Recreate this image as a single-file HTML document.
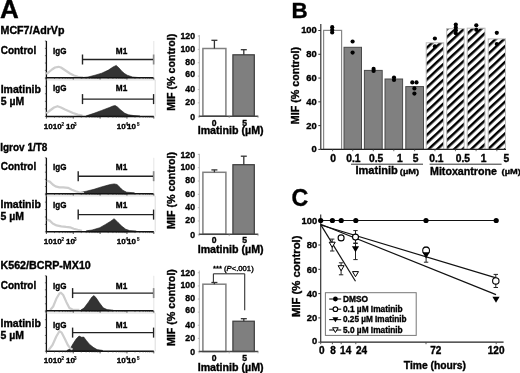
<!DOCTYPE html>
<html><head><meta charset="utf-8"><style>
html,body{margin:0;padding:0;background:#fff;}
svg{display:block;font-family:"Liberation Sans", sans-serif;filter:blur(0.3px);}
text{stroke:#000;stroke-width:0.35px;}
</style></head><body>
<svg width="520" height="373" viewBox="0 0 520 373">
<rect width="520" height="373" fill="#fff"/>
<text x="0.1" y="18.1" font-size="25.6" font-weight="bold" text-anchor="start" fill="#000" textLength="18.8" lengthAdjust="spacingAndGlyphs" >A</text>
<text x="0.5" y="33.9" font-size="10.4" font-weight="bold" text-anchor="start" fill="#000" textLength="64.0" lengthAdjust="spacingAndGlyphs" >MCF7/AdrVp</text>
<text x="0.7" y="53.8" font-size="10" font-weight="bold" text-anchor="start" fill="#000" textLength="35.5" lengthAdjust="spacingAndGlyphs" >Control</text>
<text x="0.7" y="92.7" font-size="10" font-weight="bold" text-anchor="start" fill="#000" textLength="40.2" lengthAdjust="spacingAndGlyphs" >Imatinib</text>
<text x="0.7" y="105.3" font-size="10" font-weight="bold" text-anchor="start" fill="#000" textLength="23.4" lengthAdjust="spacingAndGlyphs" >5 &#181;M</text>
<line x1="46.4" y1="41" x2="46.4" y2="117.0" stroke="#111" stroke-width="1.3"/>
<line x1="44.9" y1="77.7" x2="46.4" y2="77.7" stroke="#333" stroke-width="0.7"/>
<line x1="44.9" y1="70.36" x2="46.4" y2="70.36" stroke="#333" stroke-width="0.7"/>
<line x1="44.9" y1="63.02" x2="46.4" y2="63.02" stroke="#333" stroke-width="0.7"/>
<line x1="44.9" y1="55.68" x2="46.4" y2="55.68" stroke="#333" stroke-width="0.7"/>
<line x1="44.9" y1="48.34" x2="46.4" y2="48.34" stroke="#333" stroke-width="0.7"/>
<line x1="44.9" y1="41.0" x2="46.4" y2="41.0" stroke="#333" stroke-width="0.7"/>
<line x1="44.9" y1="116.4" x2="46.4" y2="116.4" stroke="#333" stroke-width="0.7"/>
<line x1="44.9" y1="108.86" x2="46.4" y2="108.86" stroke="#333" stroke-width="0.7"/>
<line x1="44.9" y1="101.32000000000001" x2="46.4" y2="101.32000000000001" stroke="#333" stroke-width="0.7"/>
<line x1="44.9" y1="93.78" x2="46.4" y2="93.78" stroke="#333" stroke-width="0.7"/>
<line x1="44.9" y1="86.24000000000001" x2="46.4" y2="86.24000000000001" stroke="#333" stroke-width="0.7"/>
<line x1="44.9" y1="78.7" x2="46.4" y2="78.7" stroke="#333" stroke-width="0.7"/>
<path d="M82.0,77.7 L82.0,77.6 L88.0,77.0 L95.0,75.2 L101.7,73.2 L108.4,70.1 L113.0,67.0 L116.2,65.4 L119.0,68.0 L121.8,71.2 L124.5,73.5 L127.2,75.2 L132.5,77.0 L139.2,77.6 L139.2,77.7 Z" fill="#333" stroke="#1a1a1a" stroke-width="0.6" stroke-linejoin="round"/>
<path d="M46.3,74.0 L49.0,72.0 L52.0,69.5 L55.0,67.5 L58.5,66.8 L61.0,67.5 L64.0,69.5 L67.0,71.5 L70.0,73.5 L74.0,75.5 L78.0,76.8 L83.0,77.4" fill="none" stroke="#cdcdcd" stroke-width="2.2" stroke-linejoin="round"/>
<line x1="46.4" y1="77.7" x2="153.8" y2="77.7" stroke="#111" stroke-width="1.5"/>
<line x1="46.4" y1="77.7" x2="46.4" y2="79.9" stroke="#222" stroke-width="0.8"/>
<line x1="54.5" y1="77.7" x2="54.5" y2="79.0" stroke="#333" stroke-width="0.6"/>
<line x1="59.2" y1="77.7" x2="59.2" y2="79.0" stroke="#333" stroke-width="0.6"/>
<line x1="62.6" y1="77.7" x2="62.6" y2="79.0" stroke="#333" stroke-width="0.6"/>
<line x1="65.2" y1="77.7" x2="65.2" y2="79.0" stroke="#333" stroke-width="0.6"/>
<line x1="67.3" y1="77.7" x2="67.3" y2="79.0" stroke="#333" stroke-width="0.6"/>
<line x1="69.1" y1="77.7" x2="69.1" y2="79.0" stroke="#333" stroke-width="0.6"/>
<line x1="70.6" y1="77.7" x2="70.6" y2="79.0" stroke="#333" stroke-width="0.6"/>
<line x1="72.0" y1="77.7" x2="72.0" y2="79.0" stroke="#333" stroke-width="0.6"/>
<line x1="73.25" y1="77.7" x2="73.25" y2="79.9" stroke="#222" stroke-width="0.8"/>
<line x1="81.3" y1="77.7" x2="81.3" y2="79.0" stroke="#333" stroke-width="0.6"/>
<line x1="86.1" y1="77.7" x2="86.1" y2="79.0" stroke="#333" stroke-width="0.6"/>
<line x1="89.4" y1="77.7" x2="89.4" y2="79.0" stroke="#333" stroke-width="0.6"/>
<line x1="92.0" y1="77.7" x2="92.0" y2="79.0" stroke="#333" stroke-width="0.6"/>
<line x1="94.1" y1="77.7" x2="94.1" y2="79.0" stroke="#333" stroke-width="0.6"/>
<line x1="95.9" y1="77.7" x2="95.9" y2="79.0" stroke="#333" stroke-width="0.6"/>
<line x1="97.5" y1="77.7" x2="97.5" y2="79.0" stroke="#333" stroke-width="0.6"/>
<line x1="98.9" y1="77.7" x2="98.9" y2="79.0" stroke="#333" stroke-width="0.6"/>
<line x1="100.1" y1="77.7" x2="100.1" y2="79.9" stroke="#222" stroke-width="0.8"/>
<line x1="108.2" y1="77.7" x2="108.2" y2="79.0" stroke="#333" stroke-width="0.6"/>
<line x1="112.9" y1="77.7" x2="112.9" y2="79.0" stroke="#333" stroke-width="0.6"/>
<line x1="116.3" y1="77.7" x2="116.3" y2="79.0" stroke="#333" stroke-width="0.6"/>
<line x1="118.9" y1="77.7" x2="118.9" y2="79.0" stroke="#333" stroke-width="0.6"/>
<line x1="121.0" y1="77.7" x2="121.0" y2="79.0" stroke="#333" stroke-width="0.6"/>
<line x1="122.8" y1="77.7" x2="122.8" y2="79.0" stroke="#333" stroke-width="0.6"/>
<line x1="124.3" y1="77.7" x2="124.3" y2="79.0" stroke="#333" stroke-width="0.6"/>
<line x1="125.7" y1="77.7" x2="125.7" y2="79.0" stroke="#333" stroke-width="0.6"/>
<line x1="126.95000000000002" y1="77.7" x2="126.95000000000002" y2="79.9" stroke="#222" stroke-width="0.8"/>
<line x1="135.0" y1="77.7" x2="135.0" y2="79.0" stroke="#333" stroke-width="0.6"/>
<line x1="139.8" y1="77.7" x2="139.8" y2="79.0" stroke="#333" stroke-width="0.6"/>
<line x1="143.1" y1="77.7" x2="143.1" y2="79.0" stroke="#333" stroke-width="0.6"/>
<line x1="145.7" y1="77.7" x2="145.7" y2="79.0" stroke="#333" stroke-width="0.6"/>
<line x1="147.8" y1="77.7" x2="147.8" y2="79.0" stroke="#333" stroke-width="0.6"/>
<line x1="149.6" y1="77.7" x2="149.6" y2="79.0" stroke="#333" stroke-width="0.6"/>
<line x1="151.2" y1="77.7" x2="151.2" y2="79.0" stroke="#333" stroke-width="0.6"/>
<line x1="152.6" y1="77.7" x2="152.6" y2="79.0" stroke="#333" stroke-width="0.6"/>
<line x1="153.8" y1="77.7" x2="153.8" y2="79.9" stroke="#222" stroke-width="0.8"/>
<path d="M86.3,116.4 L86.3,115.8 L94.0,113.3 L101.7,110.4 L109.4,107.5 L113.0,106.0 L115.2,105.6 L117.5,107.0 L120.0,109.4 L124.8,113.3 L128.6,114.8 L134.0,115.6 L140.0,116.0 L140.0,116.4 Z" fill="#333" stroke="#1a1a1a" stroke-width="0.6" stroke-linejoin="round"/>
<path d="M46.3,113.3 L50.0,110.5 L54.0,107.5 L57.5,106.2 L61.0,107.5 L65.0,109.5 L69.0,111.3 L73.0,113.0 L77.7,114.6 L82.5,115.5" fill="none" stroke="#cdcdcd" stroke-width="2.2" stroke-linejoin="round"/>
<line x1="46.4" y1="116.4" x2="153.8" y2="116.4" stroke="#111" stroke-width="1.5"/>
<line x1="46.4" y1="116.4" x2="46.4" y2="118.60000000000001" stroke="#222" stroke-width="0.8"/>
<line x1="54.5" y1="116.4" x2="54.5" y2="117.7" stroke="#333" stroke-width="0.6"/>
<line x1="59.2" y1="116.4" x2="59.2" y2="117.7" stroke="#333" stroke-width="0.6"/>
<line x1="62.6" y1="116.4" x2="62.6" y2="117.7" stroke="#333" stroke-width="0.6"/>
<line x1="65.2" y1="116.4" x2="65.2" y2="117.7" stroke="#333" stroke-width="0.6"/>
<line x1="67.3" y1="116.4" x2="67.3" y2="117.7" stroke="#333" stroke-width="0.6"/>
<line x1="69.1" y1="116.4" x2="69.1" y2="117.7" stroke="#333" stroke-width="0.6"/>
<line x1="70.6" y1="116.4" x2="70.6" y2="117.7" stroke="#333" stroke-width="0.6"/>
<line x1="72.0" y1="116.4" x2="72.0" y2="117.7" stroke="#333" stroke-width="0.6"/>
<line x1="73.25" y1="116.4" x2="73.25" y2="118.60000000000001" stroke="#222" stroke-width="0.8"/>
<line x1="81.3" y1="116.4" x2="81.3" y2="117.7" stroke="#333" stroke-width="0.6"/>
<line x1="86.1" y1="116.4" x2="86.1" y2="117.7" stroke="#333" stroke-width="0.6"/>
<line x1="89.4" y1="116.4" x2="89.4" y2="117.7" stroke="#333" stroke-width="0.6"/>
<line x1="92.0" y1="116.4" x2="92.0" y2="117.7" stroke="#333" stroke-width="0.6"/>
<line x1="94.1" y1="116.4" x2="94.1" y2="117.7" stroke="#333" stroke-width="0.6"/>
<line x1="95.9" y1="116.4" x2="95.9" y2="117.7" stroke="#333" stroke-width="0.6"/>
<line x1="97.5" y1="116.4" x2="97.5" y2="117.7" stroke="#333" stroke-width="0.6"/>
<line x1="98.9" y1="116.4" x2="98.9" y2="117.7" stroke="#333" stroke-width="0.6"/>
<line x1="100.1" y1="116.4" x2="100.1" y2="118.60000000000001" stroke="#222" stroke-width="0.8"/>
<line x1="108.2" y1="116.4" x2="108.2" y2="117.7" stroke="#333" stroke-width="0.6"/>
<line x1="112.9" y1="116.4" x2="112.9" y2="117.7" stroke="#333" stroke-width="0.6"/>
<line x1="116.3" y1="116.4" x2="116.3" y2="117.7" stroke="#333" stroke-width="0.6"/>
<line x1="118.9" y1="116.4" x2="118.9" y2="117.7" stroke="#333" stroke-width="0.6"/>
<line x1="121.0" y1="116.4" x2="121.0" y2="117.7" stroke="#333" stroke-width="0.6"/>
<line x1="122.8" y1="116.4" x2="122.8" y2="117.7" stroke="#333" stroke-width="0.6"/>
<line x1="124.3" y1="116.4" x2="124.3" y2="117.7" stroke="#333" stroke-width="0.6"/>
<line x1="125.7" y1="116.4" x2="125.7" y2="117.7" stroke="#333" stroke-width="0.6"/>
<line x1="126.95000000000002" y1="116.4" x2="126.95000000000002" y2="118.60000000000001" stroke="#222" stroke-width="0.8"/>
<line x1="135.0" y1="116.4" x2="135.0" y2="117.7" stroke="#333" stroke-width="0.6"/>
<line x1="139.8" y1="116.4" x2="139.8" y2="117.7" stroke="#333" stroke-width="0.6"/>
<line x1="143.1" y1="116.4" x2="143.1" y2="117.7" stroke="#333" stroke-width="0.6"/>
<line x1="145.7" y1="116.4" x2="145.7" y2="117.7" stroke="#333" stroke-width="0.6"/>
<line x1="147.8" y1="116.4" x2="147.8" y2="117.7" stroke="#333" stroke-width="0.6"/>
<line x1="149.6" y1="116.4" x2="149.6" y2="117.7" stroke="#333" stroke-width="0.6"/>
<line x1="151.2" y1="116.4" x2="151.2" y2="117.7" stroke="#333" stroke-width="0.6"/>
<line x1="152.6" y1="116.4" x2="152.6" y2="117.7" stroke="#333" stroke-width="0.6"/>
<line x1="153.8" y1="116.4" x2="153.8" y2="118.60000000000001" stroke="#222" stroke-width="0.8"/>
<line x1="82.5" y1="59.5" x2="153.6" y2="59.5" stroke="#222" stroke-width="1.4"/>
<line x1="82.5" y1="54.5" x2="82.5" y2="64.5" stroke="#222" stroke-width="1.4"/>
<line x1="153.6" y1="54.5" x2="153.6" y2="64.5" stroke="#222" stroke-width="1.4"/>
<text x="53.0" y="53.8" font-size="8.2" font-weight="bold" text-anchor="start" fill="#000" textLength="13.4" lengthAdjust="spacingAndGlyphs" >IgG</text>
<text x="115.8" y="53.8" font-size="8.2" font-weight="bold" text-anchor="start" fill="#000" textLength="11.4" lengthAdjust="spacingAndGlyphs" >M1</text>
<line x1="82.5" y1="99.1" x2="153.6" y2="99.1" stroke="#222" stroke-width="1.4"/>
<line x1="82.5" y1="94.1" x2="82.5" y2="104.1" stroke="#222" stroke-width="1.4"/>
<line x1="153.6" y1="94.1" x2="153.6" y2="104.1" stroke="#222" stroke-width="1.4"/>
<text x="53.0" y="91.4" font-size="8.2" font-weight="bold" text-anchor="start" fill="#000" textLength="13.4" lengthAdjust="spacingAndGlyphs" >IgG</text>
<text x="115.8" y="91.4" font-size="8.2" font-weight="bold" text-anchor="start" fill="#000" textLength="11.4" lengthAdjust="spacingAndGlyphs" >M1</text>
<line x1="153.8" y1="41" x2="153.8" y2="77.7" stroke="#dedede" stroke-width="0.8"/>
<line x1="46.4" y1="79.9" x2="155.2" y2="79.9" stroke="#d4d4d4" stroke-width="0.8"/>
<line x1="155.2" y1="79.9" x2="155.2" y2="116.4" stroke="#d4d4d4" stroke-width="0.8"/>
<text x="43.8" y="128.5" font-size="8.0" font-weight="bold">1010</text>
<text x="66.1" y="128.5" font-size="8.0" font-weight="bold">10</text>
<text x="116.7" y="128.5" font-size="8.0" font-weight="bold">10</text>
<text x="127.1" y="128.5" font-size="8.0" font-weight="bold">10</text>
<text x="61.5" y="125.5" font-size="4.5" font-weight="bold" style="stroke-width:0.15px">2</text>
<text x="74.1" y="125.5" font-size="4.5" font-weight="bold" style="stroke-width:0.15px">3</text>
<text x="125.4" y="125.5" font-size="4.5" font-weight="bold" style="stroke-width:0.15px">4</text>
<text x="136.9" y="125.5" font-size="4.5" font-weight="bold" style="stroke-width:0.15px">5</text>
<line x1="199.3" y1="35.1" x2="199.3" y2="116.2" stroke="#a8a8a8" stroke-width="0.9"/>
<line x1="197.8" y1="116.2" x2="199.3" y2="116.2" stroke="#a8a8a8" stroke-width="0.8"/>
<line x1="197.8" y1="102.834" x2="199.3" y2="102.834" stroke="#a8a8a8" stroke-width="0.8"/>
<line x1="197.8" y1="89.468" x2="199.3" y2="89.468" stroke="#a8a8a8" stroke-width="0.8"/>
<line x1="197.8" y1="76.102" x2="199.3" y2="76.102" stroke="#a8a8a8" stroke-width="0.8"/>
<line x1="197.8" y1="62.736000000000004" x2="199.3" y2="62.736000000000004" stroke="#a8a8a8" stroke-width="0.8"/>
<line x1="197.8" y1="49.370000000000005" x2="199.3" y2="49.370000000000005" stroke="#a8a8a8" stroke-width="0.8"/>
<line x1="197.8" y1="36.004000000000005" x2="199.3" y2="36.004000000000005" stroke="#a8a8a8" stroke-width="0.8"/>
<text x="195.0" y="119.5" font-size="8.7" font-weight="bold" text-anchor="end" fill="#000" >0</text>
<text x="195.0" y="104.8" font-size="8.7" font-weight="bold" text-anchor="end" fill="#000" >20</text>
<text x="195.0" y="92.0" font-size="8.7" font-weight="bold" text-anchor="end" fill="#000" >40</text>
<text x="195.0" y="77.25" font-size="8.7" font-weight="bold" text-anchor="end" fill="#000" >60</text>
<text x="195.0" y="65.15" font-size="8.7" font-weight="bold" text-anchor="end" fill="#000" >80</text>
<text x="195.0" y="51.6" font-size="8.7" font-weight="bold" text-anchor="end" fill="#000" >100</text>
<text x="195.0" y="38.65" font-size="8.7" font-weight="bold" text-anchor="end" fill="#000" >120</text>
<rect x="202.9" y="48.5" width="23.0" height="67.7" fill="#fff" stroke="#808080" stroke-width="1.5"/>
<rect x="232.9" y="54.8" width="21.4" height="61.400000000000006" fill="#7f7f7f" stroke="#3a3a3a" stroke-width="1.2"/>
<line x1="214.4" y1="40.3" x2="214.4" y2="48.5" stroke="#333" stroke-width="1.3"/>
<line x1="211.4" y1="40.3" x2="217.4" y2="40.3" stroke="#333" stroke-width="1.3"/>
<line x1="243.8" y1="49.7" x2="243.8" y2="54.8" stroke="#333" stroke-width="1.3"/>
<line x1="240.8" y1="49.7" x2="246.8" y2="49.7" stroke="#333" stroke-width="1.3"/>
<line x1="199.0" y1="116.2" x2="258.3" y2="116.2" stroke="#444" stroke-width="1.4"/>
<line x1="199.0" y1="116.2" x2="199.0" y2="118.0" stroke="#999" stroke-width="0.8"/>
<line x1="229.2" y1="116.2" x2="229.2" y2="118.0" stroke="#999" stroke-width="0.8"/>
<line x1="258.0" y1="116.2" x2="258.0" y2="118.0" stroke="#999" stroke-width="0.8"/>
<text x="214.1" y="125.60000000000001" font-size="8.6" font-weight="bold" text-anchor="middle" fill="#000" >0</text>
<text x="244.7" y="125.60000000000001" font-size="8.6" font-weight="bold" text-anchor="middle" fill="#000" >5</text>
<text x="197.7" y="134.4" font-size="10.2" font-weight="bold" text-anchor="start" fill="#000" textLength="65.9" lengthAdjust="spacingAndGlyphs" >Imatinib (&#181;M)</text>
<text x="0" y="0" font-size="10.6" font-weight="bold" transform="translate(175.4,110.8) rotate(-90)" textLength="77.0" lengthAdjust="spacingAndGlyphs">MIF (% control)</text>
<text x="0.2" y="150.6" font-size="10.4" font-weight="bold" text-anchor="start" fill="#000" textLength="47.2" lengthAdjust="spacingAndGlyphs" >Igrov 1/T8</text>
<text x="0.8" y="169.6" font-size="10" font-weight="bold" text-anchor="start" fill="#000" textLength="35.4" lengthAdjust="spacingAndGlyphs" >Control</text>
<text x="0.6" y="207.7" font-size="10" font-weight="bold" text-anchor="start" fill="#000" textLength="40.2" lengthAdjust="spacingAndGlyphs" >Imatinib</text>
<text x="0.6" y="219.8" font-size="10" font-weight="bold" text-anchor="start" fill="#000" textLength="23.4" lengthAdjust="spacingAndGlyphs" >5 &#181;M</text>
<line x1="46.4" y1="157.8" x2="46.4" y2="232.4" stroke="#111" stroke-width="1.3"/>
<line x1="44.9" y1="193.7" x2="46.4" y2="193.7" stroke="#333" stroke-width="0.7"/>
<line x1="44.9" y1="186.51999999999998" x2="46.4" y2="186.51999999999998" stroke="#333" stroke-width="0.7"/>
<line x1="44.9" y1="179.34" x2="46.4" y2="179.34" stroke="#333" stroke-width="0.7"/>
<line x1="44.9" y1="172.16" x2="46.4" y2="172.16" stroke="#333" stroke-width="0.7"/>
<line x1="44.9" y1="164.98000000000002" x2="46.4" y2="164.98000000000002" stroke="#333" stroke-width="0.7"/>
<line x1="44.9" y1="157.8" x2="46.4" y2="157.8" stroke="#333" stroke-width="0.7"/>
<line x1="44.9" y1="231.8" x2="46.4" y2="231.8" stroke="#333" stroke-width="0.7"/>
<line x1="44.9" y1="224.38" x2="46.4" y2="224.38" stroke="#333" stroke-width="0.7"/>
<line x1="44.9" y1="216.96" x2="46.4" y2="216.96" stroke="#333" stroke-width="0.7"/>
<line x1="44.9" y1="209.54" x2="46.4" y2="209.54" stroke="#333" stroke-width="0.7"/>
<line x1="44.9" y1="202.12" x2="46.4" y2="202.12" stroke="#333" stroke-width="0.7"/>
<line x1="44.9" y1="194.7" x2="46.4" y2="194.7" stroke="#333" stroke-width="0.7"/>
<path d="M78.6,193.7 L78.6,192.8 L86.3,191.2 L94.0,189.3 L99.8,187.4 L105.5,185.8 L110.3,184.5 L114.2,183.9 L117.0,184.5 L120.0,187.4 L122.8,190.3 L126.7,192.2 L134.4,192.8 L134.4,193.7 Z" fill="#333" stroke="#1a1a1a" stroke-width="0.6" stroke-linejoin="round"/>
<path d="M46.9,180.7 L49.8,181.6 L52.7,184.5 L55.5,186.4 L59.4,187.4 L63.2,187.4 L68.0,187.8 L71.9,189.7 L75.7,191.2 L79.6,192.6 L84.0,193.2" fill="none" stroke="#cdcdcd" stroke-width="2.2" stroke-linejoin="round"/>
<line x1="46.4" y1="193.7" x2="153.8" y2="193.7" stroke="#111" stroke-width="1.5"/>
<line x1="46.4" y1="193.7" x2="46.4" y2="195.89999999999998" stroke="#222" stroke-width="0.8"/>
<line x1="54.5" y1="193.7" x2="54.5" y2="195.0" stroke="#333" stroke-width="0.6"/>
<line x1="59.2" y1="193.7" x2="59.2" y2="195.0" stroke="#333" stroke-width="0.6"/>
<line x1="62.6" y1="193.7" x2="62.6" y2="195.0" stroke="#333" stroke-width="0.6"/>
<line x1="65.2" y1="193.7" x2="65.2" y2="195.0" stroke="#333" stroke-width="0.6"/>
<line x1="67.3" y1="193.7" x2="67.3" y2="195.0" stroke="#333" stroke-width="0.6"/>
<line x1="69.1" y1="193.7" x2="69.1" y2="195.0" stroke="#333" stroke-width="0.6"/>
<line x1="70.6" y1="193.7" x2="70.6" y2="195.0" stroke="#333" stroke-width="0.6"/>
<line x1="72.0" y1="193.7" x2="72.0" y2="195.0" stroke="#333" stroke-width="0.6"/>
<line x1="73.25" y1="193.7" x2="73.25" y2="195.89999999999998" stroke="#222" stroke-width="0.8"/>
<line x1="81.3" y1="193.7" x2="81.3" y2="195.0" stroke="#333" stroke-width="0.6"/>
<line x1="86.1" y1="193.7" x2="86.1" y2="195.0" stroke="#333" stroke-width="0.6"/>
<line x1="89.4" y1="193.7" x2="89.4" y2="195.0" stroke="#333" stroke-width="0.6"/>
<line x1="92.0" y1="193.7" x2="92.0" y2="195.0" stroke="#333" stroke-width="0.6"/>
<line x1="94.1" y1="193.7" x2="94.1" y2="195.0" stroke="#333" stroke-width="0.6"/>
<line x1="95.9" y1="193.7" x2="95.9" y2="195.0" stroke="#333" stroke-width="0.6"/>
<line x1="97.5" y1="193.7" x2="97.5" y2="195.0" stroke="#333" stroke-width="0.6"/>
<line x1="98.9" y1="193.7" x2="98.9" y2="195.0" stroke="#333" stroke-width="0.6"/>
<line x1="100.1" y1="193.7" x2="100.1" y2="195.89999999999998" stroke="#222" stroke-width="0.8"/>
<line x1="108.2" y1="193.7" x2="108.2" y2="195.0" stroke="#333" stroke-width="0.6"/>
<line x1="112.9" y1="193.7" x2="112.9" y2="195.0" stroke="#333" stroke-width="0.6"/>
<line x1="116.3" y1="193.7" x2="116.3" y2="195.0" stroke="#333" stroke-width="0.6"/>
<line x1="118.9" y1="193.7" x2="118.9" y2="195.0" stroke="#333" stroke-width="0.6"/>
<line x1="121.0" y1="193.7" x2="121.0" y2="195.0" stroke="#333" stroke-width="0.6"/>
<line x1="122.8" y1="193.7" x2="122.8" y2="195.0" stroke="#333" stroke-width="0.6"/>
<line x1="124.3" y1="193.7" x2="124.3" y2="195.0" stroke="#333" stroke-width="0.6"/>
<line x1="125.7" y1="193.7" x2="125.7" y2="195.0" stroke="#333" stroke-width="0.6"/>
<line x1="126.95000000000002" y1="193.7" x2="126.95000000000002" y2="195.89999999999998" stroke="#222" stroke-width="0.8"/>
<line x1="135.0" y1="193.7" x2="135.0" y2="195.0" stroke="#333" stroke-width="0.6"/>
<line x1="139.8" y1="193.7" x2="139.8" y2="195.0" stroke="#333" stroke-width="0.6"/>
<line x1="143.1" y1="193.7" x2="143.1" y2="195.0" stroke="#333" stroke-width="0.6"/>
<line x1="145.7" y1="193.7" x2="145.7" y2="195.0" stroke="#333" stroke-width="0.6"/>
<line x1="147.8" y1="193.7" x2="147.8" y2="195.0" stroke="#333" stroke-width="0.6"/>
<line x1="149.6" y1="193.7" x2="149.6" y2="195.0" stroke="#333" stroke-width="0.6"/>
<line x1="151.2" y1="193.7" x2="151.2" y2="195.0" stroke="#333" stroke-width="0.6"/>
<line x1="152.6" y1="193.7" x2="152.6" y2="195.0" stroke="#333" stroke-width="0.6"/>
<line x1="153.8" y1="193.7" x2="153.8" y2="195.89999999999998" stroke="#222" stroke-width="0.8"/>
<path d="M86.3,231.8 L86.3,230.8 L92.1,230.0 L99.8,227.7 L105.5,224.4 L110.3,221.5 L114.2,218.7 L118.0,222.5 L121.9,226.3 L125.7,229.2 L129.6,230.6 L136.3,231.0 L136.3,231.8 Z" fill="#333" stroke="#1a1a1a" stroke-width="0.6" stroke-linejoin="round"/>
<path d="M46.9,219.6 L49.8,220.6 L52.7,223.5 L56.5,225.4 L61.3,226.3 L66.1,226.9 L70.0,227.3 L73.8,228.7 L77.7,229.8 L82.0,230.8" fill="none" stroke="#cdcdcd" stroke-width="2.2" stroke-linejoin="round"/>
<line x1="46.4" y1="231.8" x2="153.8" y2="231.8" stroke="#111" stroke-width="1.5"/>
<line x1="46.4" y1="231.8" x2="46.4" y2="234.0" stroke="#222" stroke-width="0.8"/>
<line x1="54.5" y1="231.8" x2="54.5" y2="233.10000000000002" stroke="#333" stroke-width="0.6"/>
<line x1="59.2" y1="231.8" x2="59.2" y2="233.10000000000002" stroke="#333" stroke-width="0.6"/>
<line x1="62.6" y1="231.8" x2="62.6" y2="233.10000000000002" stroke="#333" stroke-width="0.6"/>
<line x1="65.2" y1="231.8" x2="65.2" y2="233.10000000000002" stroke="#333" stroke-width="0.6"/>
<line x1="67.3" y1="231.8" x2="67.3" y2="233.10000000000002" stroke="#333" stroke-width="0.6"/>
<line x1="69.1" y1="231.8" x2="69.1" y2="233.10000000000002" stroke="#333" stroke-width="0.6"/>
<line x1="70.6" y1="231.8" x2="70.6" y2="233.10000000000002" stroke="#333" stroke-width="0.6"/>
<line x1="72.0" y1="231.8" x2="72.0" y2="233.10000000000002" stroke="#333" stroke-width="0.6"/>
<line x1="73.25" y1="231.8" x2="73.25" y2="234.0" stroke="#222" stroke-width="0.8"/>
<line x1="81.3" y1="231.8" x2="81.3" y2="233.10000000000002" stroke="#333" stroke-width="0.6"/>
<line x1="86.1" y1="231.8" x2="86.1" y2="233.10000000000002" stroke="#333" stroke-width="0.6"/>
<line x1="89.4" y1="231.8" x2="89.4" y2="233.10000000000002" stroke="#333" stroke-width="0.6"/>
<line x1="92.0" y1="231.8" x2="92.0" y2="233.10000000000002" stroke="#333" stroke-width="0.6"/>
<line x1="94.1" y1="231.8" x2="94.1" y2="233.10000000000002" stroke="#333" stroke-width="0.6"/>
<line x1="95.9" y1="231.8" x2="95.9" y2="233.10000000000002" stroke="#333" stroke-width="0.6"/>
<line x1="97.5" y1="231.8" x2="97.5" y2="233.10000000000002" stroke="#333" stroke-width="0.6"/>
<line x1="98.9" y1="231.8" x2="98.9" y2="233.10000000000002" stroke="#333" stroke-width="0.6"/>
<line x1="100.1" y1="231.8" x2="100.1" y2="234.0" stroke="#222" stroke-width="0.8"/>
<line x1="108.2" y1="231.8" x2="108.2" y2="233.10000000000002" stroke="#333" stroke-width="0.6"/>
<line x1="112.9" y1="231.8" x2="112.9" y2="233.10000000000002" stroke="#333" stroke-width="0.6"/>
<line x1="116.3" y1="231.8" x2="116.3" y2="233.10000000000002" stroke="#333" stroke-width="0.6"/>
<line x1="118.9" y1="231.8" x2="118.9" y2="233.10000000000002" stroke="#333" stroke-width="0.6"/>
<line x1="121.0" y1="231.8" x2="121.0" y2="233.10000000000002" stroke="#333" stroke-width="0.6"/>
<line x1="122.8" y1="231.8" x2="122.8" y2="233.10000000000002" stroke="#333" stroke-width="0.6"/>
<line x1="124.3" y1="231.8" x2="124.3" y2="233.10000000000002" stroke="#333" stroke-width="0.6"/>
<line x1="125.7" y1="231.8" x2="125.7" y2="233.10000000000002" stroke="#333" stroke-width="0.6"/>
<line x1="126.95000000000002" y1="231.8" x2="126.95000000000002" y2="234.0" stroke="#222" stroke-width="0.8"/>
<line x1="135.0" y1="231.8" x2="135.0" y2="233.10000000000002" stroke="#333" stroke-width="0.6"/>
<line x1="139.8" y1="231.8" x2="139.8" y2="233.10000000000002" stroke="#333" stroke-width="0.6"/>
<line x1="143.1" y1="231.8" x2="143.1" y2="233.10000000000002" stroke="#333" stroke-width="0.6"/>
<line x1="145.7" y1="231.8" x2="145.7" y2="233.10000000000002" stroke="#333" stroke-width="0.6"/>
<line x1="147.8" y1="231.8" x2="147.8" y2="233.10000000000002" stroke="#333" stroke-width="0.6"/>
<line x1="149.6" y1="231.8" x2="149.6" y2="233.10000000000002" stroke="#333" stroke-width="0.6"/>
<line x1="151.2" y1="231.8" x2="151.2" y2="233.10000000000002" stroke="#333" stroke-width="0.6"/>
<line x1="152.6" y1="231.8" x2="152.6" y2="233.10000000000002" stroke="#333" stroke-width="0.6"/>
<line x1="153.8" y1="231.8" x2="153.8" y2="234.0" stroke="#222" stroke-width="0.8"/>
<line x1="78.2" y1="176.2" x2="153.6" y2="176.2" stroke="#222" stroke-width="1.4"/>
<line x1="78.2" y1="171.2" x2="78.2" y2="181.2" stroke="#222" stroke-width="1.4"/>
<line x1="153.6" y1="171.2" x2="153.6" y2="181.2" stroke="#222" stroke-width="1.4"/>
<text x="53.0" y="169.8" font-size="8.2" font-weight="bold" text-anchor="start" fill="#000" textLength="13.4" lengthAdjust="spacingAndGlyphs" >IgG</text>
<text x="115.8" y="169.8" font-size="8.2" font-weight="bold" text-anchor="start" fill="#000" textLength="11.4" lengthAdjust="spacingAndGlyphs" >M1</text>
<line x1="78.2" y1="214.6" x2="153.6" y2="214.6" stroke="#222" stroke-width="1.4"/>
<line x1="78.2" y1="209.6" x2="78.2" y2="219.6" stroke="#222" stroke-width="1.4"/>
<line x1="153.6" y1="209.6" x2="153.6" y2="219.6" stroke="#222" stroke-width="1.4"/>
<text x="53.0" y="208.3" font-size="8.2" font-weight="bold" text-anchor="start" fill="#000" textLength="13.4" lengthAdjust="spacingAndGlyphs" >IgG</text>
<text x="115.8" y="208.3" font-size="8.2" font-weight="bold" text-anchor="start" fill="#000" textLength="11.4" lengthAdjust="spacingAndGlyphs" >M1</text>
<line x1="153.8" y1="157.8" x2="153.8" y2="193.7" stroke="#dedede" stroke-width="0.8"/>
<line x1="46.4" y1="195.89999999999998" x2="155.2" y2="195.89999999999998" stroke="#d4d4d4" stroke-width="0.8"/>
<line x1="155.2" y1="195.89999999999998" x2="155.2" y2="231.8" stroke="#d4d4d4" stroke-width="0.8"/>
<text x="43.8" y="244.3" font-size="8.0" font-weight="bold">1010</text>
<text x="66.1" y="244.3" font-size="8.0" font-weight="bold">10</text>
<text x="116.7" y="244.3" font-size="8.0" font-weight="bold">10</text>
<text x="127.1" y="244.3" font-size="8.0" font-weight="bold">10</text>
<text x="61.5" y="241.3" font-size="4.5" font-weight="bold" style="stroke-width:0.15px">2</text>
<text x="74.1" y="241.3" font-size="4.5" font-weight="bold" style="stroke-width:0.15px">3</text>
<text x="125.4" y="241.3" font-size="4.5" font-weight="bold" style="stroke-width:0.15px">4</text>
<text x="136.9" y="241.3" font-size="4.5" font-weight="bold" style="stroke-width:0.15px">5</text>
<line x1="199.3" y1="153.8" x2="199.3" y2="234.3" stroke="#a8a8a8" stroke-width="0.9"/>
<line x1="197.8" y1="234.3" x2="199.3" y2="234.3" stroke="#a8a8a8" stroke-width="0.8"/>
<line x1="197.8" y1="220.98000000000002" x2="199.3" y2="220.98000000000002" stroke="#a8a8a8" stroke-width="0.8"/>
<line x1="197.8" y1="207.66000000000003" x2="199.3" y2="207.66000000000003" stroke="#a8a8a8" stroke-width="0.8"/>
<line x1="197.8" y1="194.34" x2="199.3" y2="194.34" stroke="#a8a8a8" stroke-width="0.8"/>
<line x1="197.8" y1="181.02" x2="199.3" y2="181.02" stroke="#a8a8a8" stroke-width="0.8"/>
<line x1="197.8" y1="167.7" x2="199.3" y2="167.7" stroke="#a8a8a8" stroke-width="0.8"/>
<line x1="197.8" y1="154.38" x2="199.3" y2="154.38" stroke="#a8a8a8" stroke-width="0.8"/>
<text x="195.0" y="237.9" font-size="8.7" font-weight="bold" text-anchor="end" fill="#000" >0</text>
<text x="195.0" y="223.4" font-size="8.7" font-weight="bold" text-anchor="end" fill="#000" >20</text>
<text x="195.0" y="210.3" font-size="8.7" font-weight="bold" text-anchor="end" fill="#000" >40</text>
<text x="195.0" y="196.6" font-size="8.7" font-weight="bold" text-anchor="end" fill="#000" >60</text>
<text x="195.0" y="183.0" font-size="8.7" font-weight="bold" text-anchor="end" fill="#000" >80</text>
<text x="195.0" y="170.0" font-size="8.7" font-weight="bold" text-anchor="end" fill="#000" >100</text>
<text x="195.0" y="157.85" font-size="8.7" font-weight="bold" text-anchor="end" fill="#000" >120</text>
<rect x="202.9" y="172.3" width="23.0" height="62.0" fill="#fff" stroke="#808080" stroke-width="1.5"/>
<rect x="232.9" y="164.7" width="21.4" height="69.60000000000002" fill="#7f7f7f" stroke="#3a3a3a" stroke-width="1.2"/>
<line x1="214.4" y1="169.9" x2="214.4" y2="172.3" stroke="#333" stroke-width="1.3"/>
<line x1="211.4" y1="169.9" x2="217.4" y2="169.9" stroke="#333" stroke-width="1.3"/>
<line x1="243.8" y1="156.2" x2="243.8" y2="164.7" stroke="#333" stroke-width="1.3"/>
<line x1="240.8" y1="156.2" x2="246.8" y2="156.2" stroke="#333" stroke-width="1.3"/>
<line x1="199.0" y1="234.3" x2="258.3" y2="234.3" stroke="#444" stroke-width="1.4"/>
<line x1="199.0" y1="234.3" x2="199.0" y2="236.10000000000002" stroke="#999" stroke-width="0.8"/>
<line x1="229.2" y1="234.3" x2="229.2" y2="236.10000000000002" stroke="#999" stroke-width="0.8"/>
<line x1="258.0" y1="234.3" x2="258.0" y2="236.10000000000002" stroke="#999" stroke-width="0.8"/>
<text x="214.1" y="243.4" font-size="8.6" font-weight="bold" text-anchor="middle" fill="#000" >0</text>
<text x="244.7" y="243.4" font-size="8.6" font-weight="bold" text-anchor="middle" fill="#000" >5</text>
<text x="197.7" y="252.7" font-size="10.2" font-weight="bold" text-anchor="start" fill="#000" textLength="65.9" lengthAdjust="spacingAndGlyphs" >Imatinib (&#181;M)</text>
<text x="0" y="0" font-size="10.6" font-weight="bold" transform="translate(175.4,228.9) rotate(-90)" textLength="77.0" lengthAdjust="spacingAndGlyphs">MIF (% control)</text>
<text x="0.5" y="268.6" font-size="10.4" font-weight="bold" text-anchor="start" fill="#000" textLength="90.3" lengthAdjust="spacingAndGlyphs" >K562/BCRP-MX10</text>
<text x="0.8" y="288.6" font-size="10" font-weight="bold" text-anchor="start" fill="#000" textLength="35.4" lengthAdjust="spacingAndGlyphs" >Control</text>
<text x="0.6" y="327.0" font-size="10" font-weight="bold" text-anchor="start" fill="#000" textLength="40.2" lengthAdjust="spacingAndGlyphs" >Imatinib</text>
<text x="0.6" y="339.2" font-size="10" font-weight="bold" text-anchor="start" fill="#000" textLength="23.4" lengthAdjust="spacingAndGlyphs" >5 &#181;M</text>
<line x1="46.4" y1="275.8" x2="46.4" y2="351.8" stroke="#111" stroke-width="1.3"/>
<line x1="44.9" y1="310.8" x2="46.4" y2="310.8" stroke="#333" stroke-width="0.7"/>
<line x1="44.9" y1="303.8" x2="46.4" y2="303.8" stroke="#333" stroke-width="0.7"/>
<line x1="44.9" y1="296.8" x2="46.4" y2="296.8" stroke="#333" stroke-width="0.7"/>
<line x1="44.9" y1="289.8" x2="46.4" y2="289.8" stroke="#333" stroke-width="0.7"/>
<line x1="44.9" y1="282.8" x2="46.4" y2="282.8" stroke="#333" stroke-width="0.7"/>
<line x1="44.9" y1="275.8" x2="46.4" y2="275.8" stroke="#333" stroke-width="0.7"/>
<line x1="44.9" y1="351.2" x2="46.4" y2="351.2" stroke="#333" stroke-width="0.7"/>
<line x1="44.9" y1="343.32" x2="46.4" y2="343.32" stroke="#333" stroke-width="0.7"/>
<line x1="44.9" y1="335.44" x2="46.4" y2="335.44" stroke="#333" stroke-width="0.7"/>
<line x1="44.9" y1="327.56" x2="46.4" y2="327.56" stroke="#333" stroke-width="0.7"/>
<line x1="44.9" y1="319.68" x2="46.4" y2="319.68" stroke="#333" stroke-width="0.7"/>
<line x1="44.9" y1="311.8" x2="46.4" y2="311.8" stroke="#333" stroke-width="0.7"/>
<path d="M80.9,310.8 L80.9,309.9 L84.0,308.1 L88.6,301.9 L91.7,297.3 L94.0,295.6 L96.3,298.1 L99.4,302.7 L103.2,307.8 L107.1,309.6 L113.2,310.2 L113.2,310.8 Z" fill="#333" stroke="#1a1a1a" stroke-width="0.6" stroke-linejoin="round"/>
<path d="M50.2,309.9 L53.2,306.5 L56.3,298.8 L59.4,293.5 L60.9,292.7 L63.2,295.0 L66.3,301.9 L69.4,308.1 L72.5,309.6 L79.4,309.9" fill="none" stroke="#cdcdcd" stroke-width="2.2" stroke-linejoin="round"/>
<line x1="46.4" y1="310.8" x2="153.8" y2="310.8" stroke="#111" stroke-width="1.5"/>
<line x1="46.4" y1="310.8" x2="46.4" y2="313.0" stroke="#222" stroke-width="0.8"/>
<line x1="54.5" y1="310.8" x2="54.5" y2="312.1" stroke="#333" stroke-width="0.6"/>
<line x1="59.2" y1="310.8" x2="59.2" y2="312.1" stroke="#333" stroke-width="0.6"/>
<line x1="62.6" y1="310.8" x2="62.6" y2="312.1" stroke="#333" stroke-width="0.6"/>
<line x1="65.2" y1="310.8" x2="65.2" y2="312.1" stroke="#333" stroke-width="0.6"/>
<line x1="67.3" y1="310.8" x2="67.3" y2="312.1" stroke="#333" stroke-width="0.6"/>
<line x1="69.1" y1="310.8" x2="69.1" y2="312.1" stroke="#333" stroke-width="0.6"/>
<line x1="70.6" y1="310.8" x2="70.6" y2="312.1" stroke="#333" stroke-width="0.6"/>
<line x1="72.0" y1="310.8" x2="72.0" y2="312.1" stroke="#333" stroke-width="0.6"/>
<line x1="73.25" y1="310.8" x2="73.25" y2="313.0" stroke="#222" stroke-width="0.8"/>
<line x1="81.3" y1="310.8" x2="81.3" y2="312.1" stroke="#333" stroke-width="0.6"/>
<line x1="86.1" y1="310.8" x2="86.1" y2="312.1" stroke="#333" stroke-width="0.6"/>
<line x1="89.4" y1="310.8" x2="89.4" y2="312.1" stroke="#333" stroke-width="0.6"/>
<line x1="92.0" y1="310.8" x2="92.0" y2="312.1" stroke="#333" stroke-width="0.6"/>
<line x1="94.1" y1="310.8" x2="94.1" y2="312.1" stroke="#333" stroke-width="0.6"/>
<line x1="95.9" y1="310.8" x2="95.9" y2="312.1" stroke="#333" stroke-width="0.6"/>
<line x1="97.5" y1="310.8" x2="97.5" y2="312.1" stroke="#333" stroke-width="0.6"/>
<line x1="98.9" y1="310.8" x2="98.9" y2="312.1" stroke="#333" stroke-width="0.6"/>
<line x1="100.1" y1="310.8" x2="100.1" y2="313.0" stroke="#222" stroke-width="0.8"/>
<line x1="108.2" y1="310.8" x2="108.2" y2="312.1" stroke="#333" stroke-width="0.6"/>
<line x1="112.9" y1="310.8" x2="112.9" y2="312.1" stroke="#333" stroke-width="0.6"/>
<line x1="116.3" y1="310.8" x2="116.3" y2="312.1" stroke="#333" stroke-width="0.6"/>
<line x1="118.9" y1="310.8" x2="118.9" y2="312.1" stroke="#333" stroke-width="0.6"/>
<line x1="121.0" y1="310.8" x2="121.0" y2="312.1" stroke="#333" stroke-width="0.6"/>
<line x1="122.8" y1="310.8" x2="122.8" y2="312.1" stroke="#333" stroke-width="0.6"/>
<line x1="124.3" y1="310.8" x2="124.3" y2="312.1" stroke="#333" stroke-width="0.6"/>
<line x1="125.7" y1="310.8" x2="125.7" y2="312.1" stroke="#333" stroke-width="0.6"/>
<line x1="126.95000000000002" y1="310.8" x2="126.95000000000002" y2="313.0" stroke="#222" stroke-width="0.8"/>
<line x1="135.0" y1="310.8" x2="135.0" y2="312.1" stroke="#333" stroke-width="0.6"/>
<line x1="139.8" y1="310.8" x2="139.8" y2="312.1" stroke="#333" stroke-width="0.6"/>
<line x1="143.1" y1="310.8" x2="143.1" y2="312.1" stroke="#333" stroke-width="0.6"/>
<line x1="145.7" y1="310.8" x2="145.7" y2="312.1" stroke="#333" stroke-width="0.6"/>
<line x1="147.8" y1="310.8" x2="147.8" y2="312.1" stroke="#333" stroke-width="0.6"/>
<line x1="149.6" y1="310.8" x2="149.6" y2="312.1" stroke="#333" stroke-width="0.6"/>
<line x1="151.2" y1="310.8" x2="151.2" y2="312.1" stroke="#333" stroke-width="0.6"/>
<line x1="152.6" y1="310.8" x2="152.6" y2="312.1" stroke="#333" stroke-width="0.6"/>
<line x1="153.8" y1="310.8" x2="153.8" y2="313.0" stroke="#222" stroke-width="0.8"/>
<path d="M67.0,351.2 L67.0,350.4 L70.2,348.8 L73.2,343.5 L76.3,338.8 L79.1,336.1 L81.7,337.3 L83.7,337.0 L86.3,340.4 L89.4,344.2 L93.2,347.3 L97.1,349.6 L102.5,350.4 L102.5,351.2 Z" fill="#333" stroke="#1a1a1a" stroke-width="0.6" stroke-linejoin="round"/>
<path d="M48.6,350.1 L52.5,345.0 L56.3,336.5 L59.4,331.2 L61.7,332.7 L64.8,338.8 L67.8,345.0 L70.2,348.1 L72.5,349.6" fill="none" stroke="#cdcdcd" stroke-width="2.2" stroke-linejoin="round"/>
<line x1="46.4" y1="351.2" x2="153.8" y2="351.2" stroke="#111" stroke-width="1.5"/>
<line x1="46.4" y1="351.2" x2="46.4" y2="353.4" stroke="#222" stroke-width="0.8"/>
<line x1="54.5" y1="351.2" x2="54.5" y2="352.5" stroke="#333" stroke-width="0.6"/>
<line x1="59.2" y1="351.2" x2="59.2" y2="352.5" stroke="#333" stroke-width="0.6"/>
<line x1="62.6" y1="351.2" x2="62.6" y2="352.5" stroke="#333" stroke-width="0.6"/>
<line x1="65.2" y1="351.2" x2="65.2" y2="352.5" stroke="#333" stroke-width="0.6"/>
<line x1="67.3" y1="351.2" x2="67.3" y2="352.5" stroke="#333" stroke-width="0.6"/>
<line x1="69.1" y1="351.2" x2="69.1" y2="352.5" stroke="#333" stroke-width="0.6"/>
<line x1="70.6" y1="351.2" x2="70.6" y2="352.5" stroke="#333" stroke-width="0.6"/>
<line x1="72.0" y1="351.2" x2="72.0" y2="352.5" stroke="#333" stroke-width="0.6"/>
<line x1="73.25" y1="351.2" x2="73.25" y2="353.4" stroke="#222" stroke-width="0.8"/>
<line x1="81.3" y1="351.2" x2="81.3" y2="352.5" stroke="#333" stroke-width="0.6"/>
<line x1="86.1" y1="351.2" x2="86.1" y2="352.5" stroke="#333" stroke-width="0.6"/>
<line x1="89.4" y1="351.2" x2="89.4" y2="352.5" stroke="#333" stroke-width="0.6"/>
<line x1="92.0" y1="351.2" x2="92.0" y2="352.5" stroke="#333" stroke-width="0.6"/>
<line x1="94.1" y1="351.2" x2="94.1" y2="352.5" stroke="#333" stroke-width="0.6"/>
<line x1="95.9" y1="351.2" x2="95.9" y2="352.5" stroke="#333" stroke-width="0.6"/>
<line x1="97.5" y1="351.2" x2="97.5" y2="352.5" stroke="#333" stroke-width="0.6"/>
<line x1="98.9" y1="351.2" x2="98.9" y2="352.5" stroke="#333" stroke-width="0.6"/>
<line x1="100.1" y1="351.2" x2="100.1" y2="353.4" stroke="#222" stroke-width="0.8"/>
<line x1="108.2" y1="351.2" x2="108.2" y2="352.5" stroke="#333" stroke-width="0.6"/>
<line x1="112.9" y1="351.2" x2="112.9" y2="352.5" stroke="#333" stroke-width="0.6"/>
<line x1="116.3" y1="351.2" x2="116.3" y2="352.5" stroke="#333" stroke-width="0.6"/>
<line x1="118.9" y1="351.2" x2="118.9" y2="352.5" stroke="#333" stroke-width="0.6"/>
<line x1="121.0" y1="351.2" x2="121.0" y2="352.5" stroke="#333" stroke-width="0.6"/>
<line x1="122.8" y1="351.2" x2="122.8" y2="352.5" stroke="#333" stroke-width="0.6"/>
<line x1="124.3" y1="351.2" x2="124.3" y2="352.5" stroke="#333" stroke-width="0.6"/>
<line x1="125.7" y1="351.2" x2="125.7" y2="352.5" stroke="#333" stroke-width="0.6"/>
<line x1="126.95000000000002" y1="351.2" x2="126.95000000000002" y2="353.4" stroke="#222" stroke-width="0.8"/>
<line x1="135.0" y1="351.2" x2="135.0" y2="352.5" stroke="#333" stroke-width="0.6"/>
<line x1="139.8" y1="351.2" x2="139.8" y2="352.5" stroke="#333" stroke-width="0.6"/>
<line x1="143.1" y1="351.2" x2="143.1" y2="352.5" stroke="#333" stroke-width="0.6"/>
<line x1="145.7" y1="351.2" x2="145.7" y2="352.5" stroke="#333" stroke-width="0.6"/>
<line x1="147.8" y1="351.2" x2="147.8" y2="352.5" stroke="#333" stroke-width="0.6"/>
<line x1="149.6" y1="351.2" x2="149.6" y2="352.5" stroke="#333" stroke-width="0.6"/>
<line x1="151.2" y1="351.2" x2="151.2" y2="352.5" stroke="#333" stroke-width="0.6"/>
<line x1="152.6" y1="351.2" x2="152.6" y2="352.5" stroke="#333" stroke-width="0.6"/>
<line x1="153.8" y1="351.2" x2="153.8" y2="353.4" stroke="#222" stroke-width="0.8"/>
<line x1="72.6" y1="293.1" x2="153.6" y2="293.1" stroke="#222" stroke-width="1.4"/>
<line x1="72.6" y1="288.1" x2="72.6" y2="298.1" stroke="#222" stroke-width="1.4"/>
<line x1="153.6" y1="288.1" x2="153.6" y2="298.1" stroke="#222" stroke-width="1.4"/>
<text x="53.0" y="289.0" font-size="8.2" font-weight="bold" text-anchor="start" fill="#000" textLength="13.4" lengthAdjust="spacingAndGlyphs" >IgG</text>
<text x="115.8" y="289.0" font-size="8.2" font-weight="bold" text-anchor="start" fill="#000" textLength="11.4" lengthAdjust="spacingAndGlyphs" >M1</text>
<line x1="72.6" y1="332.6" x2="153.6" y2="332.6" stroke="#222" stroke-width="1.4"/>
<line x1="72.6" y1="327.6" x2="72.6" y2="337.6" stroke="#222" stroke-width="1.4"/>
<line x1="153.6" y1="327.6" x2="153.6" y2="337.6" stroke="#222" stroke-width="1.4"/>
<text x="53.0" y="328.2" font-size="8.2" font-weight="bold" text-anchor="start" fill="#000" textLength="13.4" lengthAdjust="spacingAndGlyphs" >IgG</text>
<text x="115.8" y="328.2" font-size="8.2" font-weight="bold" text-anchor="start" fill="#000" textLength="11.4" lengthAdjust="spacingAndGlyphs" >M1</text>
<line x1="153.8" y1="275.8" x2="153.8" y2="310.8" stroke="#dedede" stroke-width="0.8"/>
<line x1="46.4" y1="313.0" x2="155.2" y2="313.0" stroke="#d4d4d4" stroke-width="0.8"/>
<line x1="155.2" y1="313.0" x2="155.2" y2="351.2" stroke="#d4d4d4" stroke-width="0.8"/>
<text x="43.8" y="362.9" font-size="8.0" font-weight="bold">1010</text>
<text x="66.1" y="362.9" font-size="8.0" font-weight="bold">10</text>
<text x="116.7" y="362.9" font-size="8.0" font-weight="bold">10</text>
<text x="127.1" y="362.9" font-size="8.0" font-weight="bold">10</text>
<text x="61.5" y="359.9" font-size="4.5" font-weight="bold" style="stroke-width:0.15px">2</text>
<text x="74.1" y="359.9" font-size="4.5" font-weight="bold" style="stroke-width:0.15px">3</text>
<text x="125.4" y="359.9" font-size="4.5" font-weight="bold" style="stroke-width:0.15px">4</text>
<text x="136.9" y="359.9" font-size="4.5" font-weight="bold" style="stroke-width:0.15px">5</text>
<line x1="199.3" y1="270.5" x2="199.3" y2="351.5" stroke="#a8a8a8" stroke-width="0.9"/>
<line x1="197.8" y1="351.5" x2="199.3" y2="351.5" stroke="#a8a8a8" stroke-width="0.8"/>
<line x1="197.8" y1="338.38" x2="199.3" y2="338.38" stroke="#a8a8a8" stroke-width="0.8"/>
<line x1="197.8" y1="325.26" x2="199.3" y2="325.26" stroke="#a8a8a8" stroke-width="0.8"/>
<line x1="197.8" y1="312.14" x2="199.3" y2="312.14" stroke="#a8a8a8" stroke-width="0.8"/>
<line x1="197.8" y1="299.02" x2="199.3" y2="299.02" stroke="#a8a8a8" stroke-width="0.8"/>
<line x1="197.8" y1="285.9" x2="199.3" y2="285.9" stroke="#a8a8a8" stroke-width="0.8"/>
<line x1="197.8" y1="272.78" x2="199.3" y2="272.78" stroke="#a8a8a8" stroke-width="0.8"/>
<text x="195.0" y="354.5" font-size="8.7" font-weight="bold" text-anchor="end" fill="#000" >0</text>
<text x="195.0" y="340.9" font-size="8.7" font-weight="bold" text-anchor="end" fill="#000" >20</text>
<text x="195.0" y="328.35" font-size="8.7" font-weight="bold" text-anchor="end" fill="#000" >40</text>
<text x="195.0" y="312.75" font-size="8.7" font-weight="bold" text-anchor="end" fill="#000" >60</text>
<text x="195.0" y="300.65" font-size="8.7" font-weight="bold" text-anchor="end" fill="#000" >80</text>
<text x="195.0" y="287.65" font-size="8.7" font-weight="bold" text-anchor="end" fill="#000" >100</text>
<text x="195.0" y="275.8" font-size="8.7" font-weight="bold" text-anchor="end" fill="#000" >120</text>
<rect x="202.9" y="284.2" width="23.0" height="67.30000000000001" fill="#fff" stroke="#808080" stroke-width="1.5"/>
<rect x="232.9" y="321.2" width="21.4" height="30.30000000000001" fill="#7f7f7f" stroke="#3a3a3a" stroke-width="1.2"/>
<line x1="214.4" y1="282.5" x2="214.4" y2="284.2" stroke="#333" stroke-width="1.3"/>
<line x1="211.4" y1="282.5" x2="217.4" y2="282.5" stroke="#333" stroke-width="1.3"/>
<line x1="243.8" y1="318.7" x2="243.8" y2="321.2" stroke="#333" stroke-width="1.3"/>
<line x1="240.8" y1="318.7" x2="246.8" y2="318.7" stroke="#333" stroke-width="1.3"/>
<line x1="199.0" y1="351.5" x2="258.3" y2="351.5" stroke="#444" stroke-width="1.4"/>
<line x1="199.0" y1="351.5" x2="199.0" y2="353.3" stroke="#999" stroke-width="0.8"/>
<line x1="229.2" y1="351.5" x2="229.2" y2="353.3" stroke="#999" stroke-width="0.8"/>
<line x1="258.0" y1="351.5" x2="258.0" y2="353.3" stroke="#999" stroke-width="0.8"/>
<text x="214.1" y="361.4" font-size="8.6" font-weight="bold" text-anchor="middle" fill="#000" >0</text>
<text x="244.7" y="361.4" font-size="8.6" font-weight="bold" text-anchor="middle" fill="#000" >5</text>
<text x="197.7" y="370.5" font-size="10.2" font-weight="bold" text-anchor="start" fill="#000" textLength="65.9" lengthAdjust="spacingAndGlyphs" >Imatinib (&#181;M)</text>
<text x="0" y="0" font-size="10.6" font-weight="bold" transform="translate(175.4,346.1) rotate(-90)" textLength="77.0" lengthAdjust="spacingAndGlyphs">MIF (% control)</text>
<line x1="213.4" y1="273.8" x2="213.4" y2="282.5" stroke="#333" stroke-width="1.1"/>
<line x1="213.4" y1="273.8" x2="244.7" y2="273.8" stroke="#333" stroke-width="1.1"/>
<line x1="244.7" y1="273.8" x2="244.7" y2="310.2" stroke="#333" stroke-width="1.1"/>
<text x="213" y="271.4" font-size="6.6" font-weight="normal" stroke="#000" stroke-width="0.25" textLength="40.7" lengthAdjust="spacingAndGlyphs">*** (<tspan font-style="italic">P</tspan>&lt;.001)</text>
<text x="291.4" y="18.3" font-size="21.8" font-weight="bold" text-anchor="start" fill="#000" textLength="16.2" lengthAdjust="spacingAndGlyphs" >B</text>
<defs><pattern id="hatch" patternUnits="userSpaceOnUse" width="5.8" height="10" patternTransform="rotate(47)"><rect width="5.8" height="10" fill="#fff"/><rect width="2.5" height="10" fill="#000"/></pattern></defs>
<rect x="323.6" y="30.4" width="18.0" height="119.0" fill="#fff" stroke="#888" stroke-width="1.2"/>
<rect x="344.0" y="47.3" width="17.5" height="102.10000000000001" fill="#808080" stroke="#4a4a4a" stroke-width="1.0"/>
<rect x="364.4" y="70.4" width="17.80000000000001" height="79.0" fill="#808080" stroke="#4a4a4a" stroke-width="1.0"/>
<rect x="385.0" y="79.0" width="17.600000000000023" height="70.4" fill="#808080" stroke="#4a4a4a" stroke-width="1.0"/>
<rect x="405.8" y="86.6" width="17.69999999999999" height="62.80000000000001" fill="#808080" stroke="#4a4a4a" stroke-width="1.0"/>
<rect x="426.2" y="42.8" width="17.5" height="106.60000000000001" fill="url(#hatch)" stroke="#bbb" stroke-width="1.0"/>
<rect x="446.7" y="28.7" width="17.5" height="120.7" fill="url(#hatch)" stroke="#bbb" stroke-width="1.0"/>
<rect x="467.2" y="28.2" width="17.80000000000001" height="121.2" fill="url(#hatch)" stroke="#bbb" stroke-width="1.0"/>
<rect x="488.2" y="38.9" width="17.30000000000001" height="110.5" fill="url(#hatch)" stroke="#bbb" stroke-width="1.0"/>
<line x1="320.8" y1="24" x2="320.8" y2="149.4" stroke="#333" stroke-width="1.2"/>
<line x1="320.8" y1="149.4" x2="506" y2="149.4" stroke="#222" stroke-width="1.2"/>
<line x1="318.3" y1="149.4" x2="320.8" y2="149.4" stroke="#333" stroke-width="1.0"/>
<text x="316.8" y="152.3" font-size="9.4" font-weight="bold" text-anchor="end" fill="#000" >0</text>
<line x1="318.3" y1="125.62" x2="320.8" y2="125.62" stroke="#333" stroke-width="1.0"/>
<text x="316.8" y="128.52" font-size="9.4" font-weight="bold" text-anchor="end" fill="#000" >20</text>
<line x1="318.3" y1="101.84" x2="320.8" y2="101.84" stroke="#333" stroke-width="1.0"/>
<text x="316.8" y="104.74000000000001" font-size="9.4" font-weight="bold" text-anchor="end" fill="#000" >40</text>
<line x1="318.3" y1="78.06" x2="320.8" y2="78.06" stroke="#333" stroke-width="1.0"/>
<text x="316.8" y="80.96000000000001" font-size="9.4" font-weight="bold" text-anchor="end" fill="#000" >60</text>
<line x1="318.3" y1="54.28" x2="320.8" y2="54.28" stroke="#333" stroke-width="1.0"/>
<text x="316.8" y="57.18" font-size="9.4" font-weight="bold" text-anchor="end" fill="#000" >80</text>
<line x1="318.3" y1="30.5" x2="320.8" y2="30.5" stroke="#333" stroke-width="1.0"/>
<text x="316.8" y="33.4" font-size="9.4" font-weight="bold" text-anchor="end" fill="#000" >100</text>
<circle cx="332.2" cy="27.2" r="2.1" fill="#000"/>
<circle cx="332.2" cy="30.0" r="2.1" fill="#000"/>
<circle cx="332.2" cy="32.5" r="2.1" fill="#000"/>
<circle cx="352.6" cy="41.5" r="2.1" fill="#000"/>
<circle cx="352.6" cy="52.6" r="2.1" fill="#000"/>
<circle cx="373.6" cy="68.9" r="2.1" fill="#000"/>
<circle cx="373.6" cy="71" r="2.1" fill="#000"/>
<circle cx="394" cy="77.5" r="2.1" fill="#000"/>
<circle cx="394" cy="80" r="2.1" fill="#000"/>
<circle cx="412.3" cy="82.4" r="2.1" fill="#000"/>
<circle cx="416.5" cy="82.4" r="2.1" fill="#000"/>
<circle cx="414.4" cy="88.4" r="2.1" fill="#000"/>
<circle cx="414.4" cy="93.6" r="2.1" fill="#000"/>
<circle cx="434.9" cy="38.5" r="2.1" fill="#000"/>
<circle cx="434.9" cy="46.4" r="2.1" fill="#000"/>
<circle cx="455.8" cy="24.6" r="2.1" fill="#000"/>
<circle cx="455.8" cy="27.5" r="2.1" fill="#000"/>
<circle cx="455.8" cy="30.3" r="2.1" fill="#000"/>
<circle cx="455.8" cy="33.2" r="2.1" fill="#000"/>
<circle cx="476.3" cy="25.3" r="2.1" fill="#000"/>
<circle cx="476.3" cy="29.8" r="2.1" fill="#000"/>
<circle cx="496.8" cy="32.8" r="2.1" fill="#000"/>
<circle cx="496.8" cy="44" r="2.1" fill="#000"/>
<text x="333" y="162.0" font-size="10.3" font-weight="bold" text-anchor="middle" fill="#000" >0</text>
<text x="353.4" y="162.0" font-size="10.3" font-weight="bold" text-anchor="middle" fill="#000" >0.1</text>
<text x="376.1" y="162.0" font-size="10.3" font-weight="bold" text-anchor="middle" fill="#000" >0.5</text>
<text x="399.85" y="162.0" font-size="10.3" font-weight="bold" text-anchor="middle" fill="#000" >1</text>
<text x="415.7" y="162.0" font-size="10.3" font-weight="bold" text-anchor="middle" fill="#000" >5</text>
<text x="436.35" y="162.0" font-size="10.3" font-weight="bold" text-anchor="middle" fill="#000" >0.1</text>
<text x="462.95" y="162.0" font-size="10.3" font-weight="bold" text-anchor="middle" fill="#000" >0.5</text>
<text x="483.7" y="162.0" font-size="10.3" font-weight="bold" text-anchor="middle" fill="#000" >1</text>
<text x="506.3" y="162.0" font-size="10.3" font-weight="bold" text-anchor="middle" fill="#000" >5</text>
<line x1="332.6" y1="149.4" x2="332.6" y2="151.20000000000002" stroke="#444" stroke-width="0.8"/>
<line x1="352.75" y1="149.4" x2="352.75" y2="151.20000000000002" stroke="#444" stroke-width="0.8"/>
<line x1="373.29999999999995" y1="149.4" x2="373.29999999999995" y2="151.20000000000002" stroke="#444" stroke-width="0.8"/>
<line x1="393.8" y1="149.4" x2="393.8" y2="151.20000000000002" stroke="#444" stroke-width="0.8"/>
<line x1="414.65" y1="149.4" x2="414.65" y2="151.20000000000002" stroke="#444" stroke-width="0.8"/>
<line x1="434.95" y1="149.4" x2="434.95" y2="151.20000000000002" stroke="#444" stroke-width="0.8"/>
<line x1="455.45" y1="149.4" x2="455.45" y2="151.20000000000002" stroke="#444" stroke-width="0.8"/>
<line x1="476.1" y1="149.4" x2="476.1" y2="151.20000000000002" stroke="#444" stroke-width="0.8"/>
<line x1="496.85" y1="149.4" x2="496.85" y2="151.20000000000002" stroke="#444" stroke-width="0.8"/>
<line x1="351" y1="164.2" x2="423" y2="164.2" stroke="#333" stroke-width="1.0"/>
<line x1="429.6" y1="164.2" x2="501.6" y2="164.2" stroke="#333" stroke-width="1.0"/>
<text x="355.4" y="174.3" font-size="11" font-weight="bold" text-anchor="start" fill="#000" textLength="42.4" lengthAdjust="spacingAndGlyphs" >Imatinib</text>
<text x="399.8" y="173.6" font-size="8" font-weight="bold" text-anchor="start" fill="#000" textLength="19.2" lengthAdjust="spacingAndGlyphs" >(&#181;M)</text>
<text x="430" y="174.6" font-size="11" font-weight="bold" text-anchor="start" fill="#000" textLength="67" lengthAdjust="spacingAndGlyphs" >Mitoxantrone</text>
<text x="501.6" y="173.8" font-size="8" font-weight="bold" text-anchor="start" fill="#000" textLength="19.2" lengthAdjust="spacingAndGlyphs" >(&#181;M)</text>
<text x="0" y="0" font-size="10.5" font-weight="bold" transform="translate(299.3,124.2) rotate(-90)" textLength="77.2" lengthAdjust="spacingAndGlyphs">MIF (% control)</text>
<text x="291.4" y="206.0" font-size="23.4" font-weight="bold" text-anchor="start" fill="#000" textLength="16.8" lengthAdjust="spacingAndGlyphs" >C</text>
<line x1="320.7" y1="214.5" x2="320.7" y2="342.2" stroke="#333" stroke-width="1.2"/>
<line x1="320.7" y1="342.2" x2="503.6" y2="342.2" stroke="#222" stroke-width="1.2"/>
<line x1="318.3" y1="342.2" x2="320.7" y2="342.2" stroke="#333" stroke-width="1.0"/>
<text x="317.2" y="344.3" font-size="9.4" font-weight="bold" text-anchor="end" fill="#000" >0</text>
<line x1="318.3" y1="317.9" x2="320.7" y2="317.9" stroke="#333" stroke-width="1.0"/>
<text x="317.2" y="321.2" font-size="9.4" font-weight="bold" text-anchor="end" fill="#000" >20</text>
<line x1="318.3" y1="293.59999999999997" x2="320.7" y2="293.59999999999997" stroke="#333" stroke-width="1.0"/>
<text x="317.2" y="296.9" font-size="9.4" font-weight="bold" text-anchor="end" fill="#000" >40</text>
<line x1="318.3" y1="269.29999999999995" x2="320.7" y2="269.29999999999995" stroke="#333" stroke-width="1.0"/>
<text x="317.2" y="272.59999999999997" font-size="9.4" font-weight="bold" text-anchor="end" fill="#000" >60</text>
<line x1="318.3" y1="245.0" x2="320.7" y2="245.0" stroke="#333" stroke-width="1.0"/>
<text x="317.2" y="248.3" font-size="9.4" font-weight="bold" text-anchor="end" fill="#000" >80</text>
<line x1="318.3" y1="220.7" x2="320.7" y2="220.7" stroke="#333" stroke-width="1.0"/>
<text x="317.2" y="224.0" font-size="9.4" font-weight="bold" text-anchor="end" fill="#000" >100</text>
<line x1="320.7" y1="342.2" x2="320.7" y2="344.2" stroke="#444" stroke-width="0.9"/>
<line x1="332.4" y1="342.2" x2="332.4" y2="344.2" stroke="#444" stroke-width="0.9"/>
<line x1="341.175" y1="342.2" x2="341.175" y2="344.2" stroke="#444" stroke-width="0.9"/>
<line x1="355.79999999999995" y1="342.2" x2="355.79999999999995" y2="344.2" stroke="#444" stroke-width="0.9"/>
<line x1="426.0" y1="342.2" x2="426.0" y2="344.2" stroke="#444" stroke-width="0.9"/>
<line x1="496.2" y1="342.2" x2="496.2" y2="344.2" stroke="#444" stroke-width="0.9"/>
<text x="321.7" y="354.0" font-size="10.0" font-weight="bold" text-anchor="middle" fill="#000" >0</text>
<text x="333.1" y="354.0" font-size="10.0" font-weight="bold" text-anchor="middle" fill="#000" >8</text>
<text x="345.65" y="354.0" font-size="10.0" font-weight="bold" text-anchor="middle" fill="#000" >14</text>
<text x="361.5" y="354.0" font-size="10.0" font-weight="bold" text-anchor="middle" fill="#000" >24</text>
<text x="435.75" y="354.0" font-size="10.0" font-weight="bold" text-anchor="middle" fill="#000" >72</text>
<text x="496.15" y="354.0" font-size="10.0" font-weight="bold" text-anchor="middle" fill="#000" >120</text>
<text x="403.8" y="369.2" font-size="10.3" font-weight="bold" text-anchor="start" fill="#000" textLength="62.2" lengthAdjust="spacingAndGlyphs" >Time (hours)</text>
<text x="0" y="0" font-size="11" font-weight="bold" transform="translate(300.4,317.0) rotate(-90)" textLength="81.5" lengthAdjust="spacingAndGlyphs">MIF (% control)</text>
<line x1="320.7" y1="220.5" x2="496.2" y2="220.5" stroke="#111" stroke-width="1.2"/>
<line x1="320.7" y1="225.0" x2="496.0" y2="277.9" stroke="#111" stroke-width="1.2"/>
<line x1="320.7" y1="224.2" x2="496.0" y2="294.6" stroke="#111" stroke-width="1.2"/>
<line x1="320.7" y1="224.6" x2="355.5" y2="281.3" stroke="#111" stroke-width="1.2"/>
<circle cx="320.7" cy="220.5" r="2.6" fill="#000"/>
<circle cx="332.4" cy="220.5" r="2.6" fill="#000"/>
<circle cx="341.2" cy="220.5" r="2.6" fill="#000"/>
<circle cx="355.8" cy="220.5" r="2.6" fill="#000"/>
<circle cx="426.0" cy="220.5" r="2.6" fill="#000"/>
<circle cx="496.2" cy="220.5" r="2.6" fill="#000"/>
<line x1="355.5" y1="230.6" x2="355.5" y2="243.5" stroke="#222" stroke-width="1.0"/>
<line x1="353.3" y1="230.6" x2="357.7" y2="230.6" stroke="#222" stroke-width="1.0"/>
<line x1="353.3" y1="243.5" x2="357.7" y2="243.5" stroke="#222" stroke-width="1.0"/>
<line x1="355.5" y1="243.0" x2="355.5" y2="259.6" stroke="#222" stroke-width="1.0"/>
<line x1="353.3" y1="243.0" x2="357.7" y2="243.0" stroke="#222" stroke-width="1.0"/>
<line x1="353.3" y1="259.6" x2="357.7" y2="259.6" stroke="#222" stroke-width="1.0"/>
<line x1="426.1" y1="247.2" x2="426.1" y2="262.2" stroke="#222" stroke-width="1.0"/>
<line x1="423.90000000000003" y1="247.2" x2="428.3" y2="247.2" stroke="#222" stroke-width="1.0"/>
<line x1="423.90000000000003" y1="262.2" x2="428.3" y2="262.2" stroke="#222" stroke-width="1.0"/>
<line x1="495.8" y1="274.4" x2="495.8" y2="287.5" stroke="#222" stroke-width="1.0"/>
<line x1="493.6" y1="274.4" x2="498.0" y2="274.4" stroke="#222" stroke-width="1.0"/>
<line x1="493.6" y1="287.5" x2="498.0" y2="287.5" stroke="#222" stroke-width="1.0"/>
<line x1="332.2" y1="239.1" x2="332.2" y2="251.0" stroke="#222" stroke-width="1.0"/>
<line x1="330.0" y1="239.1" x2="334.4" y2="239.1" stroke="#222" stroke-width="1.0"/>
<line x1="330.0" y1="251.0" x2="334.4" y2="251.0" stroke="#222" stroke-width="1.0"/>
<line x1="341.1" y1="262.8" x2="341.1" y2="274.8" stroke="#222" stroke-width="1.0"/>
<line x1="338.90000000000003" y1="262.8" x2="343.3" y2="262.8" stroke="#222" stroke-width="1.0"/>
<line x1="338.90000000000003" y1="274.8" x2="343.3" y2="274.8" stroke="#222" stroke-width="1.0"/>
<circle cx="341.1" cy="237.9" r="3.0" fill="#fff" stroke="#000" stroke-width="1.1"/>
<circle cx="355.5" cy="237.1" r="3.0" fill="#fff" stroke="#000" stroke-width="1.1"/>
<path d="M351.9,246.22 L359.1,246.22 L355.5,252.34 Z" fill="#000"/>
<circle cx="426.1" cy="250.5" r="3.4" fill="#fff" stroke="#000" stroke-width="1.1"/>
<path d="M422.5,252.32 L429.70000000000005,252.32 L426.1,258.44 Z" fill="#000"/>
<circle cx="495.8" cy="280.9" r="3.2" fill="#fff" stroke="#000" stroke-width="1.1"/>
<path d="M492.4,296.72 L499.6,296.72 L496.0,302.84000000000003 Z" fill="#000"/>
<path d="M329.2,242.2 L335.2,242.2 L332.2,247.29999999999998 Z" fill="#fff" stroke="#000" stroke-width="1"/>
<path d="M338.1,265.70000000000005 L344.1,265.70000000000005 L341.1,270.8 Z" fill="#fff" stroke="#000" stroke-width="1"/>
<path d="M352.5,271.6 L358.5,271.6 L355.5,276.7 Z" fill="#fff" stroke="#000" stroke-width="1"/>
<rect x="325.4" y="292.7" width="90.8" height="42.7" fill="#fff" stroke="#777" stroke-width="1.0"/>
<line x1="329.2" y1="299.0" x2="341.2" y2="299.0" stroke="#111" stroke-width="1.1"/>
<circle cx="335.4" cy="299.0" r="2.4" fill="#000"/>
<text x="343" y="301.8" font-size="8.6" font-weight="bold" text-anchor="start" fill="#000" textLength="25" lengthAdjust="spacingAndGlyphs" >DMSO</text>
<line x1="329.2" y1="309.2" x2="341.2" y2="309.2" stroke="#111" stroke-width="1.1"/>
<circle cx="335.4" cy="309.2" r="2.3" fill="#fff" stroke="#000" stroke-width="1.1"/>
<text x="343" y="312.0" font-size="8.6" font-weight="bold" text-anchor="start" fill="#000" textLength="59.7" lengthAdjust="spacingAndGlyphs" >0.1 &#181;M Imatinib</text>
<line x1="329.2" y1="319.6" x2="341.2" y2="319.6" stroke="#111" stroke-width="1.1"/>
<path d="M332.4,317.20000000000005 L338.4,317.20000000000005 L335.4,322.3 Z" fill="#000"/>
<text x="343" y="322.40000000000003" font-size="8.6" font-weight="bold" text-anchor="start" fill="#000" textLength="63.5" lengthAdjust="spacingAndGlyphs" >0.25 &#181;M Imatinib</text>
<line x1="329.2" y1="330.0" x2="341.2" y2="330.0" stroke="#111" stroke-width="1.1"/>
<path d="M332.59999999999997,327.76 L338.2,327.76 L335.4,332.52 Z" fill="#fff" stroke="#000" stroke-width="1"/>
<text x="343" y="332.8" font-size="8.6" font-weight="bold" text-anchor="start" fill="#000" textLength="59.7" lengthAdjust="spacingAndGlyphs" >5.0 &#181;M Imatinib</text>
</svg>
</body></html>
